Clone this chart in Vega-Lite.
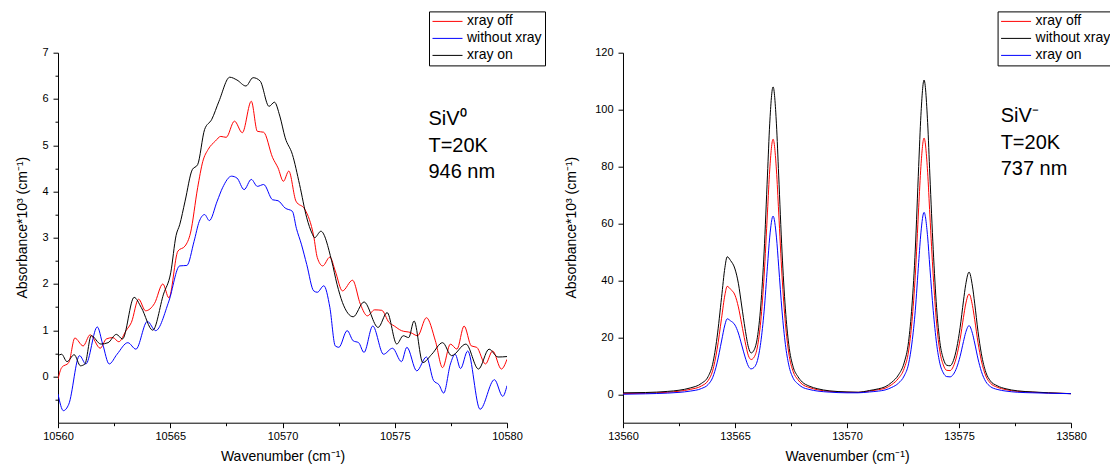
{
  "$schema": "https://vega.github.io/schema/vega-lite/v6.json",
  "background": "white",
  "padding": {"left": 15, "top": 10.7, "right": 0, "bottom": 0},
  "config": {
    "view": {"stroke": null},
    "font": "Liberation Sans",
    "axis": {"grid": false, "domainColor": "#000", "tickColor": "#000", "labelColor": "#000", "titleColor": "#000", "labelFont": "Liberation Sans", "titleFont": "Liberation Sans", "labelFontSize": 11, "titleFontSize": 14, "titleFontWeight": "normal", "domainWidth": 1, "tickWidth": 1, "labelFlush": false, "labelOverlap": false}
  },
  "datasets": {
    "siv0": [
      {"series": "xray off", "wavenumber": 10560.00, "absorbance": -0.06},
      {"series": "xray off", "wavenumber": 10560.16, "absorbance": 0.19},
      {"series": "xray off", "wavenumber": 10560.48, "absorbance": 0.30},
      {"series": "xray off", "wavenumber": 10560.75, "absorbance": 0.83},
      {"series": "xray off", "wavenumber": 10561.12, "absorbance": 0.66},
      {"series": "xray off", "wavenumber": 10561.43, "absorbance": 0.90},
      {"series": "xray off", "wavenumber": 10561.88, "absorbance": 0.61},
      {"series": "xray off", "wavenumber": 10562.15, "absorbance": 0.81},
      {"series": "xray off", "wavenumber": 10562.44, "absorbance": 0.84},
      {"series": "xray off", "wavenumber": 10562.71, "absorbance": 0.75},
      {"series": "xray off", "wavenumber": 10563.03, "absorbance": 0.99},
      {"series": "xray off", "wavenumber": 10563.27, "absorbance": 1.17},
      {"series": "xray off", "wavenumber": 10563.59, "absorbance": 1.67},
      {"series": "xray off", "wavenumber": 10563.90, "absorbance": 1.42},
      {"series": "xray off", "wavenumber": 10564.30, "absorbance": 1.58},
      {"series": "xray off", "wavenumber": 10564.67, "absorbance": 2.00},
      {"series": "xray off", "wavenumber": 10564.94, "absorbance": 1.70},
      {"series": "xray off", "wavenumber": 10565.34, "absorbance": 2.71},
      {"series": "xray off", "wavenumber": 10565.66, "absorbance": 2.82},
      {"series": "xray off", "wavenumber": 10565.90, "absorbance": 3.10},
      {"series": "xray off", "wavenumber": 10566.22, "absorbance": 4.08},
      {"series": "xray off", "wavenumber": 10566.45, "absorbance": 4.65},
      {"series": "xray off", "wavenumber": 10566.69, "absorbance": 4.91},
      {"series": "xray off", "wavenumber": 10567.01, "absorbance": 5.09},
      {"series": "xray off", "wavenumber": 10567.25, "absorbance": 5.19},
      {"series": "xray off", "wavenumber": 10567.49, "absorbance": 5.17},
      {"series": "xray off", "wavenumber": 10567.86, "absorbance": 5.52},
      {"series": "xray off", "wavenumber": 10568.21, "absorbance": 5.27},
      {"series": "xray off", "wavenumber": 10568.61, "absorbance": 5.95},
      {"series": "xray off", "wavenumber": 10568.88, "absorbance": 5.30},
      {"series": "xray off", "wavenumber": 10569.16, "absorbance": 5.28},
      {"series": "xray off", "wavenumber": 10569.56, "absorbance": 4.73},
      {"series": "xray off", "wavenumber": 10569.80, "absorbance": 4.51},
      {"series": "xray off", "wavenumber": 10570.04, "absorbance": 4.22},
      {"series": "xray off", "wavenumber": 10570.28, "absorbance": 4.44},
      {"series": "xray off", "wavenumber": 10570.60, "absorbance": 3.79},
      {"series": "xray off", "wavenumber": 10571.00, "absorbance": 3.61},
      {"series": "xray off", "wavenumber": 10571.39, "absorbance": 3.03},
      {"series": "xray off", "wavenumber": 10571.55, "absorbance": 2.57},
      {"series": "xray off", "wavenumber": 10571.79, "absorbance": 2.39},
      {"series": "xray off", "wavenumber": 10572.11, "absorbance": 2.58},
      {"series": "xray off", "wavenumber": 10572.35, "absorbance": 2.28},
      {"series": "xray off", "wavenumber": 10572.67, "absorbance": 1.85},
      {"series": "xray off", "wavenumber": 10573.12, "absorbance": 2.08},
      {"series": "xray off", "wavenumber": 10573.47, "absorbance": 1.56},
      {"series": "xray off", "wavenumber": 10573.78, "absorbance": 1.31},
      {"series": "xray off", "wavenumber": 10574.10, "absorbance": 1.44},
      {"series": "xray off", "wavenumber": 10574.42, "absorbance": 1.43},
      {"series": "xray off", "wavenumber": 10574.74, "absorbance": 1.17},
      {"series": "xray off", "wavenumber": 10574.98, "absorbance": 1.09},
      {"series": "xray off", "wavenumber": 10575.30, "absorbance": 0.99},
      {"series": "xray off", "wavenumber": 10575.70, "absorbance": 0.95},
      {"series": "xray off", "wavenumber": 10576.02, "absorbance": 0.88},
      {"series": "xray off", "wavenumber": 10576.41, "absorbance": 1.27},
      {"series": "xray off", "wavenumber": 10576.81, "absorbance": 0.77},
      {"series": "xray off", "wavenumber": 10577.13, "absorbance": 0.19},
      {"series": "xray off", "wavenumber": 10577.48, "absorbance": 0.70},
      {"series": "xray off", "wavenumber": 10577.77, "absorbance": 0.59},
      {"series": "xray off", "wavenumber": 10578.09, "absorbance": 1.09},
      {"series": "xray off", "wavenumber": 10578.41, "absorbance": 0.66},
      {"series": "xray off", "wavenumber": 10578.65, "absorbance": 0.63},
      {"series": "xray off", "wavenumber": 10579.04, "absorbance": 0.27},
      {"series": "xray off", "wavenumber": 10579.36, "absorbance": 0.55},
      {"series": "xray off", "wavenumber": 10579.75, "absorbance": 0.16},
      {"series": "xray off", "wavenumber": 10580.00, "absorbance": 0.37},

      {"series": "\u00a0without xray", "wavenumber": 10560.00, "absorbance": -0.38},
      {"series": "\u00a0without xray", "wavenumber": 10560.24, "absorbance": -0.74},
      {"series": "\u00a0without xray", "wavenumber": 10560.48, "absorbance": -0.60},
      {"series": "\u00a0without xray", "wavenumber": 10560.96, "absorbance": 0.45},
      {"series": "\u00a0without xray", "wavenumber": 10561.24, "absorbance": 0.27},
      {"series": "\u00a0without xray", "wavenumber": 10561.75, "absorbance": 1.07},
      {"series": "\u00a0without xray", "wavenumber": 10561.99, "absorbance": 0.70},
      {"series": "\u00a0without xray", "wavenumber": 10562.28, "absorbance": 0.27},
      {"series": "\u00a0without xray", "wavenumber": 10562.63, "absorbance": 0.48},
      {"series": "\u00a0without xray", "wavenumber": 10563.11, "absorbance": 0.73},
      {"series": "\u00a0without xray", "wavenumber": 10563.47, "absorbance": 0.59},
      {"series": "\u00a0without xray", "wavenumber": 10563.98, "absorbance": 1.19},
      {"series": "\u00a0without xray", "wavenumber": 10564.35, "absorbance": 0.99},
      {"series": "\u00a0without xray", "wavenumber": 10564.94, "absorbance": 1.63},
      {"series": "\u00a0without xray", "wavenumber": 10565.42, "absorbance": 2.39},
      {"series": "\u00a0without xray", "wavenumber": 10565.74, "absorbance": 2.40},
      {"series": "\u00a0without xray", "wavenumber": 10566.06, "absorbance": 2.92},
      {"series": "\u00a0without xray", "wavenumber": 10566.29, "absorbance": 3.35},
      {"series": "\u00a0without xray", "wavenumber": 10566.53, "absorbance": 3.50},
      {"series": "\u00a0without xray", "wavenumber": 10566.74, "absorbance": 3.37},
      {"series": "\u00a0without xray", "wavenumber": 10567.09, "absorbance": 3.79},
      {"series": "\u00a0without xray", "wavenumber": 10567.33, "absorbance": 4.08},
      {"series": "\u00a0without xray", "wavenumber": 10567.73, "absorbance": 4.33},
      {"series": "\u00a0without xray", "wavenumber": 10567.97, "absorbance": 4.29},
      {"series": "\u00a0without xray", "wavenumber": 10568.29, "absorbance": 4.04},
      {"series": "\u00a0without xray", "wavenumber": 10568.61, "absorbance": 4.26},
      {"series": "\u00a0without xray", "wavenumber": 10568.88, "absorbance": 4.11},
      {"series": "\u00a0without xray", "wavenumber": 10569.16, "absorbance": 4.15},
      {"series": "\u00a0without xray", "wavenumber": 10569.56, "absorbance": 3.82},
      {"series": "\u00a0without xray", "wavenumber": 10569.80, "absorbance": 3.80},
      {"series": "\u00a0without xray", "wavenumber": 10570.12, "absorbance": 3.64},
      {"series": "\u00a0without xray", "wavenumber": 10570.44, "absorbance": 3.57},
      {"series": "\u00a0without xray", "wavenumber": 10570.62, "absorbance": 3.20},
      {"series": "\u00a0without xray", "wavenumber": 10570.84, "absorbance": 2.86},
      {"series": "\u00a0without xray", "wavenumber": 10571.08, "absorbance": 2.42},
      {"series": "\u00a0without xray", "wavenumber": 10571.39, "absorbance": 1.85},
      {"series": "\u00a0without xray", "wavenumber": 10571.55, "absorbance": 1.82},
      {"series": "\u00a0without xray", "wavenumber": 10571.84, "absorbance": 1.96},
      {"series": "\u00a0without xray", "wavenumber": 10572.11, "absorbance": 1.49},
      {"series": "\u00a0without xray", "wavenumber": 10572.35, "absorbance": 0.66},
      {"series": "\u00a0without xray", "wavenumber": 10572.51, "absorbance": 0.63},
      {"series": "\u00a0without xray", "wavenumber": 10572.88, "absorbance": 0.99},
      {"series": "\u00a0without xray", "wavenumber": 10573.15, "absorbance": 0.77},
      {"series": "\u00a0without xray", "wavenumber": 10573.39, "absorbance": 0.73},
      {"series": "\u00a0without xray", "wavenumber": 10573.63, "absorbance": 0.52},
      {"series": "\u00a0without xray", "wavenumber": 10574.02, "absorbance": 1.09},
      {"series": "\u00a0without xray", "wavenumber": 10574.50, "absorbance": 0.48},
      {"series": "\u00a0without xray", "wavenumber": 10574.90, "absorbance": 0.61},
      {"series": "\u00a0without xray", "wavenumber": 10575.30, "absorbance": 0.32},
      {"series": "\u00a0without xray", "wavenumber": 10575.54, "absorbance": 0.63},
      {"series": "\u00a0without xray", "wavenumber": 10575.98, "absorbance": 0.12},
      {"series": "\u00a0without xray", "wavenumber": 10576.41, "absorbance": 0.42},
      {"series": "\u00a0without xray", "wavenumber": 10576.73, "absorbance": -0.09},
      {"series": "\u00a0without xray", "wavenumber": 10576.97, "absorbance": -0.18},
      {"series": "\u00a0without xray", "wavenumber": 10577.18, "absorbance": -0.36},
      {"series": "\u00a0without xray", "wavenumber": 10577.48, "absorbance": 0.27},
      {"series": "\u00a0without xray", "wavenumber": 10577.69, "absorbance": 0.48},
      {"series": "\u00a0without xray", "wavenumber": 10577.93, "absorbance": 0.17},
      {"series": "\u00a0without xray", "wavenumber": 10578.25, "absorbance": 0.55},
      {"series": "\u00a0without xray", "wavenumber": 10578.80, "absorbance": -0.71},
      {"series": "\u00a0without xray", "wavenumber": 10579.44, "absorbance": -0.07},
      {"series": "\u00a0without xray", "wavenumber": 10579.81, "absorbance": -0.43},
      {"series": "\u00a0without xray", "wavenumber": 10580.00, "absorbance": -0.20},

      {"series": "xray on", "wavenumber": 10560.00, "absorbance": 0.45},
      {"series": "xray on", "wavenumber": 10560.16, "absorbance": 0.48},
      {"series": "xray on", "wavenumber": 10560.40, "absorbance": 0.32},
      {"series": "xray on", "wavenumber": 10560.72, "absorbance": 0.47},
      {"series": "xray on", "wavenumber": 10561.00, "absorbance": 0.23},
      {"series": "xray on", "wavenumber": 10561.20, "absorbance": 0.27},
      {"series": "xray on", "wavenumber": 10561.48, "absorbance": 0.88},
      {"series": "xray on", "wavenumber": 10561.91, "absorbance": 0.70},
      {"series": "xray on", "wavenumber": 10562.23, "absorbance": 0.73},
      {"series": "xray on", "wavenumber": 10562.60, "absorbance": 0.91},
      {"series": "xray on", "wavenumber": 10562.87, "absorbance": 0.81},
      {"series": "xray on", "wavenumber": 10563.39, "absorbance": 1.71},
      {"series": "xray on", "wavenumber": 10563.71, "absorbance": 1.49},
      {"series": "xray on", "wavenumber": 10564.22, "absorbance": 1.00},
      {"series": "xray on", "wavenumber": 10564.70, "absorbance": 1.78},
      {"series": "xray on", "wavenumber": 10565.02, "absorbance": 2.24},
      {"series": "xray on", "wavenumber": 10565.26, "absorbance": 3.05},
      {"series": "xray on", "wavenumber": 10565.42, "absorbance": 3.28},
      {"series": "xray on", "wavenumber": 10565.66, "absorbance": 3.79},
      {"series": "xray on", "wavenumber": 10565.98, "absorbance": 4.47},
      {"series": "xray on", "wavenumber": 10566.22, "absorbance": 4.58},
      {"series": "xray on", "wavenumber": 10566.53, "absorbance": 5.34},
      {"series": "xray on", "wavenumber": 10566.85, "absorbance": 5.56},
      {"series": "xray on", "wavenumber": 10567.17, "absorbance": 5.95},
      {"series": "xray on", "wavenumber": 10567.65, "absorbance": 6.47},
      {"series": "xray on", "wavenumber": 10567.97, "absorbance": 6.41},
      {"series": "xray on", "wavenumber": 10568.37, "absorbance": 6.28},
      {"series": "xray on", "wavenumber": 10568.69, "absorbance": 6.46},
      {"series": "xray on", "wavenumber": 10569.00, "absorbance": 6.39},
      {"series": "xray on", "wavenumber": 10569.40, "absorbance": 5.84},
      {"series": "xray on", "wavenumber": 10569.64, "absorbance": 5.93},
      {"series": "xray on", "wavenumber": 10569.88, "absorbance": 5.63},
      {"series": "xray on", "wavenumber": 10570.12, "absorbance": 5.16},
      {"series": "xray on", "wavenumber": 10570.44, "absorbance": 4.80},
      {"series": "xray on", "wavenumber": 10570.76, "absorbance": 4.15},
      {"series": "xray on", "wavenumber": 10571.08, "absorbance": 3.43},
      {"series": "xray on", "wavenumber": 10571.31, "absorbance": 3.10},
      {"series": "xray on", "wavenumber": 10571.43, "absorbance": 3.00},
      {"series": "xray on", "wavenumber": 10571.71, "absorbance": 3.14},
      {"series": "xray on", "wavenumber": 10572.19, "absorbance": 2.50},
      {"series": "xray on", "wavenumber": 10572.43, "absorbance": 1.99},
      {"series": "xray on", "wavenumber": 10572.67, "absorbance": 1.60},
      {"series": "xray on", "wavenumber": 10573.15, "absorbance": 1.29},
      {"series": "xray on", "wavenumber": 10573.63, "absorbance": 1.61},
      {"series": "xray on", "wavenumber": 10574.26, "absorbance": 1.06},
      {"series": "xray on", "wavenumber": 10574.66, "absorbance": 1.38},
      {"series": "xray on", "wavenumber": 10575.09, "absorbance": 0.70},
      {"series": "xray on", "wavenumber": 10575.38, "absorbance": 0.88},
      {"series": "xray on", "wavenumber": 10575.62, "absorbance": 0.84},
      {"series": "xray on", "wavenumber": 10575.86, "absorbance": 1.20},
      {"series": "xray on", "wavenumber": 10576.25, "absorbance": 0.30},
      {"series": "xray on", "wavenumber": 10576.65, "absorbance": 0.48},
      {"series": "xray on", "wavenumber": 10577.13, "absorbance": 0.73},
      {"series": "xray on", "wavenumber": 10577.53, "absorbance": 0.45},
      {"series": "xray on", "wavenumber": 10578.17, "absorbance": 0.70},
      {"series": "xray on", "wavenumber": 10578.73, "absorbance": 0.16},
      {"series": "xray on", "wavenumber": 10579.20, "absorbance": 0.59},
      {"series": "xray on", "wavenumber": 10579.60, "absorbance": 0.42},
      {"series": "xray on", "wavenumber": 10580.00, "absorbance": 0.43}
    ],
    "sivm": [
      {"wavenumber": 13560.0, "black": 0.5, "red": 0.2, "blue": 0.0},
      {"wavenumber": 13561.0, "black": 0.6, "red": 0.35, "blue": 0.15},
      {"wavenumber": 13562.0, "black": 1.0, "red": 0.7, "blue": 0.4},
      {"wavenumber": 13562.5, "black": 1.4, "red": 1.05, "blue": 0.65},
      {"wavenumber": 13563.0, "black": 2.2, "red": 1.7, "blue": 1.1},
      {"wavenumber": 13563.5, "black": 3.8, "red": 2.9, "blue": 2.0},
      {"wavenumber": 13563.8, "black": 6.2, "red": 4.8, "blue": 3.4},
      {"wavenumber": 13564.0, "black": 10.5, "red": 8.2, "blue": 5.8},
      {"wavenumber": 13564.2, "black": 20, "red": 15.7, "blue": 11},
      {"wavenumber": 13564.4, "black": 34, "red": 26.7, "blue": 18.7},
      {"wavenumber": 13564.55, "black": 44.5, "red": 34.9, "blue": 24.4},
      {"wavenumber": 13564.65, "black": 48.3, "red": 37.9, "blue": 26.5},
      {"wavenumber": 13564.8, "black": 47, "red": 36.9, "blue": 25.8},
      {"wavenumber": 13565.0, "black": 44, "red": 34.8, "blue": 24.3},
      {"wavenumber": 13565.15, "black": 39, "red": 30.7, "blue": 21.5},
      {"wavenumber": 13565.3, "black": 31, "red": 24.6, "blue": 17.3},
      {"wavenumber": 13565.45, "black": 23, "red": 18.5, "blue": 13.1},
      {"wavenumber": 13565.6, "black": 16.5, "red": 13.5, "blue": 9.8},
      {"wavenumber": 13565.72, "black": 14.5, "red": 12.2, "blue": 8.9},
      {"wavenumber": 13565.85, "black": 15.5, "red": 13.0, "blue": 9.4},
      {"wavenumber": 13566.0, "black": 20, "red": 16.6, "blue": 11.8},
      {"wavenumber": 13566.15, "black": 31, "red": 25.7, "blue": 18.2},
      {"wavenumber": 13566.3, "black": 50, "red": 41.5, "blue": 29.2},
      {"wavenumber": 13566.45, "black": 77, "red": 64, "blue": 45},
      {"wavenumber": 13566.55, "black": 95, "red": 78.8, "blue": 55.2},
      {"wavenumber": 13566.7, "black": 108, "red": 89.6, "blue": 62.6},
      {"wavenumber": 13566.85, "black": 95, "red": 78.8, "blue": 55.2},
      {"wavenumber": 13566.95, "black": 77, "red": 64, "blue": 45},
      {"wavenumber": 13567.1, "black": 50, "red": 41.5, "blue": 29.2},
      {"wavenumber": 13567.25, "black": 30, "red": 24.9, "blue": 17.5},
      {"wavenumber": 13567.4, "black": 17.5, "red": 14.5, "blue": 10.3},
      {"wavenumber": 13567.6, "black": 9.5, "red": 7.9, "blue": 5.6},
      {"wavenumber": 13567.8, "black": 6.3, "red": 5.2, "blue": 3.7},
      {"wavenumber": 13568.0, "black": 4.3, "red": 3.5, "blue": 2.5},
      {"wavenumber": 13568.3, "black": 2.9, "red": 2.4, "blue": 1.7},
      {"wavenumber": 13568.7, "black": 1.9, "red": 1.55, "blue": 1.1},
      {"wavenumber": 13569.2, "black": 1.2, "red": 1.0, "blue": 0.75},
      {"wavenumber": 13570.0, "black": 0.8, "red": 0.7, "blue": 0.5},
      {"wavenumber": 13570.5, "black": 0.7, "red": 0.65, "blue": 0.5},
      {"wavenumber": 13571.0, "black": 1.3, "red": 1.1, "blue": 0.8},
      {"wavenumber": 13571.4, "black": 1.9, "red": 1.6, "blue": 1.1},
      {"wavenumber": 13571.7, "black": 2.6, "red": 2.1, "blue": 1.5},
      {"wavenumber": 13572.0, "black": 4.2, "red": 3.4, "blue": 2.4},
      {"wavenumber": 13572.3, "black": 6.8, "red": 5.6, "blue": 3.9},
      {"wavenumber": 13572.55, "black": 11, "red": 9.0, "blue": 6.4},
      {"wavenumber": 13572.75, "black": 18.5, "red": 15.2, "blue": 10.7},
      {"wavenumber": 13572.9, "black": 31, "red": 25.5, "blue": 18},
      {"wavenumber": 13573.05, "black": 51, "red": 41.8, "blue": 29.5},
      {"wavenumber": 13573.2, "black": 80, "red": 65.5, "blue": 46.3},
      {"wavenumber": 13573.3, "black": 98, "red": 80, "blue": 56.7},
      {"wavenumber": 13573.44, "black": 110.4, "red": 90, "blue": 63.9},
      {"wavenumber": 13573.6, "black": 95.5, "red": 78, "blue": 55.3},
      {"wavenumber": 13573.7, "black": 77, "red": 63, "blue": 44.6},
      {"wavenumber": 13573.85, "black": 50.8, "red": 41.6, "blue": 29.4},
      {"wavenumber": 13574.0, "black": 30.5, "red": 25, "blue": 17.8},
      {"wavenumber": 13574.15, "black": 18.1, "red": 14.9, "blue": 10.7},
      {"wavenumber": 13574.3, "black": 12.5, "red": 10.3, "blue": 7.5},
      {"wavenumber": 13574.45, "black": 10.2, "red": 8.4, "blue": 6.2},
      {"wavenumber": 13574.6, "black": 10.0, "red": 8.3, "blue": 6.1},
      {"wavenumber": 13574.75, "black": 11.8, "red": 9.8, "blue": 7.0},
      {"wavenumber": 13574.9, "black": 16.3, "red": 13.5, "blue": 9.4},
      {"wavenumber": 13575.05, "black": 23.4, "red": 19.3, "blue": 13.3},
      {"wavenumber": 13575.2, "black": 32.8, "red": 27, "blue": 18.5},
      {"wavenumber": 13575.3, "black": 38.5, "red": 31.7, "blue": 21.7},
      {"wavenumber": 13575.45, "black": 42.9, "red": 35.2, "blue": 24.1},
      {"wavenumber": 13575.6, "black": 38, "red": 31.2, "blue": 21.4},
      {"wavenumber": 13575.7, "black": 32, "red": 26.3, "blue": 18.0},
      {"wavenumber": 13575.85, "black": 22, "red": 18.1, "blue": 12.4},
      {"wavenumber": 13576.0, "black": 14.2, "red": 11.7, "blue": 8.0},
      {"wavenumber": 13576.2, "black": 7.7, "red": 6.4, "blue": 4.4},
      {"wavenumber": 13576.4, "black": 4.7, "red": 3.9, "blue": 2.7},
      {"wavenumber": 13576.7, "black": 3.0, "red": 2.5, "blue": 1.7},
      {"wavenumber": 13577.1, "black": 1.9, "red": 1.6, "blue": 1.1},
      {"wavenumber": 13577.6, "black": 1.2, "red": 1.0, "blue": 0.7},
      {"wavenumber": 13578.3, "black": 0.8, "red": 0.7, "blue": 0.5},
      {"wavenumber": 13579.0, "black": 0.5, "red": 0.45, "blue": 0.35},
      {"wavenumber": 13580.0, "black": 0.2, "red": 0.2, "blue": 0.2}
    ],
    "ann0": [
      {"wavenumber": 10576.5, "absorbance": 5.44, "label": "SiV⁰"},
      {"wavenumber": 10576.5, "absorbance": 4.86, "label": "T=20K"},
      {"wavenumber": 10576.5, "absorbance": 4.29, "label": "946 nm"}
    ],
    "annm": [
      {"wavenumber": 13576.86, "absorbance": 95.6, "label": "SiV⁻"},
      {"wavenumber": 13576.86, "absorbance": 86.3, "label": "T=20K"},
      {"wavenumber": 13576.86, "absorbance": 76.9, "label": "737 nm"}
    ]
  },
  "hconcat": [
    {
      "width": 449,
      "height": 370,
      "layer": [
        {
          "data": {"name": "siv0"},
          "mark": {"type": "line", "strokeWidth": 1, "interpolate": "monotone", "clip": true},
          "encoding": {
            "x": {"field": "wavenumber", "type": "quantitative", "scale": {"domain": [10560, 10580], "nice": false, "zero": false},
              "axis": {"title": "Wavenumber (cm⁻¹)", "values": [10560, 10562.5, 10565, 10567.5, 10570, 10572.5, 10575, 10577.5, 10580], "format": "d",
                "labelExpr": "datum.value % 5 === 0 ? datum.label : ''",
                "tickSize": {"condition": {"test": "datum.value % 5 === 0", "value": 5}, "value": 3},
                "labelPadding": 3, "titlePadding": 8}},
            "y": {"field": "absorbance", "type": "quantitative", "scale": {"domain": [-1, 7], "nice": false, "zero": false},
              "axis": {"title": "Absorbance*10³ (cm⁻¹)", "values": [0, 1, 2, 3, 4, 5, 6, 7], "format": "d",
                "tickSize": 5, "labelPadding": 5, "titlePadding": 12, "titleY": 174.5}},
            "color": {"field": "series", "type": "nominal",
              "scale": {"domain": ["xray off", "\u00a0without xray", "xray on"], "range": ["#ff0000", "#0000ff", "#000000"]},
              "legend": {"title": null, "orient": "none", "legendX": 371, "legendY": -41.3, "symbolType": "stroke", "symbolSize": 900, "symbolStrokeWidth": 1, "clipHeight": 14, "labelFontSize": 14, "labelFont": "Liberation Sans", "labelColor": "#000", "labelOffset": 4, "rowPadding": 3, "padding": 3, "strokeColor": "#000", "fillColor": "#fff", "cornerRadius": 0}}
          }
        },
        {
          "data": {"name": "ann0"},
          "mark": {"type": "text", "align": "left", "baseline": "alphabetic", "fontSize": 20, "font": "Liberation Sans", "color": "#000"},
          "encoding": {
            "x": {"field": "wavenumber", "type": "quantitative"},
            "y": {"field": "absorbance", "type": "quantitative",
              "axis": {"orient": "left", "title": null, "values": [-0.5, 0.5, 1.5, 2.5, 3.5, 4.5, 5.5, 6.5], "labels": false, "domain": false, "tickSize": 3}},
            "text": {"field": "label"}
          }
        }
      ],
      "resolve": {"axis": {"y": "independent"}}
    },
    {
      "width": 448,
      "height": 370,
      "layer": [
        {
          "data": {"name": "sivm"},
          "transform": [{"fold": ["red", "black", "blue"], "as": ["curve", "absorbance"]},
                        {"lookup": "curve", "from": {"data": {"values": [{"curve": "red", "series": "xray off"}, {"curve": "black", "series": "\u00a0without xray"}, {"curve": "blue", "series": "xray on"}]}, "key": "curve", "fields": ["series"]}}],
          "mark": {"type": "line", "strokeWidth": 1, "interpolate": "monotone", "clip": true},
          "encoding": {
            "x": {"field": "wavenumber", "type": "quantitative", "scale": {"domain": [13560, 13580], "nice": false, "zero": false},
              "axis": {"title": "Wavenumber (cm⁻¹)", "values": [13560, 13562.5, 13565, 13567.5, 13570, 13572.5, 13575, 13577.5, 13580], "format": "d",
                "labelExpr": "datum.value % 5 === 0 ? datum.label : ''",
                "tickSize": {"condition": {"test": "datum.value % 5 === 0", "value": 5}, "value": 3},
                "labelPadding": 3, "titlePadding": 8}},
            "y": {"field": "absorbance", "type": "quantitative", "scale": {"domain": [-10, 120], "nice": false, "zero": false},
              "axis": {"title": "Absorbance*10³ (cm⁻¹)", "values": [0, 10, 20, 30, 40, 50, 60, 70, 80, 90, 100, 110, 120], "format": "d",
                "labelExpr": "datum.value % 20 === 0 ? datum.label : ''",
                "tickSize": {"condition": {"test": "datum.value % 20 === 0", "value": 5}, "value": 3},
                "labelPadding": 5, "titlePadding": 16, "titleY": 174.5}},
            "color": {"field": "series", "type": "nominal",
              "scale": {"domain": ["xray off", "\u00a0without xray", "xray on"], "range": ["#ff0000", "#000000", "#0000ff"]},
              "legend": {"title": null, "orient": "none", "legendX": 374.6, "legendY": -41.3, "symbolType": "stroke", "symbolSize": 900, "symbolStrokeWidth": 1, "clipHeight": 14, "labelFontSize": 14, "labelFont": "Liberation Sans", "labelColor": "#000", "labelOffset": 4, "rowPadding": 3, "padding": 3, "strokeColor": "#000", "fillColor": "#fff", "cornerRadius": 0}}
          }
        },
        {
          "data": {"name": "annm"},
          "mark": {"type": "text", "align": "left", "baseline": "alphabetic", "fontSize": 20, "font": "Liberation Sans", "color": "#000"},
          "encoding": {
            "x": {"field": "wavenumber", "type": "quantitative"},
            "y": {"field": "absorbance", "type": "quantitative"},
            "text": {"field": "label"}
          }
        }
      ]
    }
  ],
  "spacing": 116,
  "bounds": "flush",
  "resolve": {"scale": {"color": "independent", "x": "independent", "y": "independent"}, "legend": {"color": "independent"}}
}
